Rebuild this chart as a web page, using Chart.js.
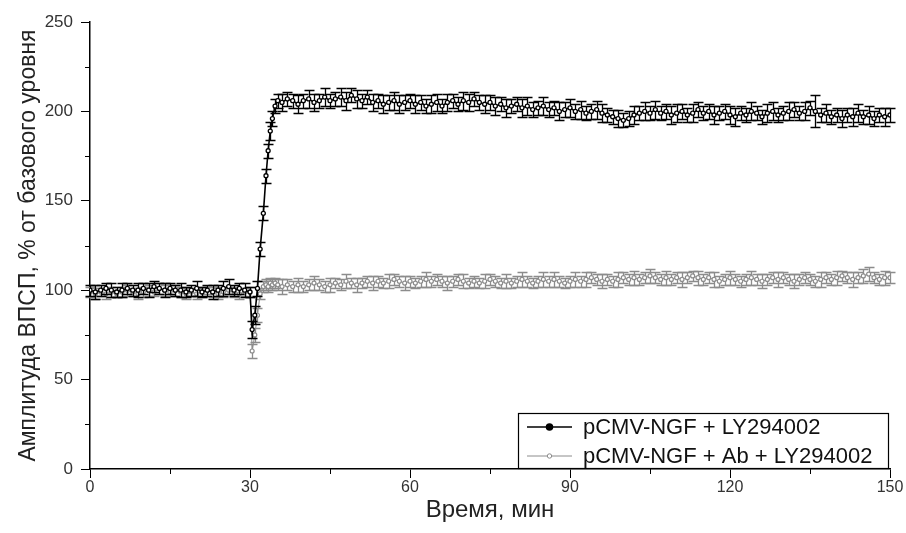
<!DOCTYPE html>
<html>
<head>
<meta charset="utf-8">
<script src="https://cdn.jsdelivr.net/npm/chart.js@4.4.0/dist/chart.umd.min.js"></script>
<style>
  body { margin: 0; background: #fff; }
</style>
</head>
<body>
<canvas id="myChart" width="906" height="533"></canvas>
<script>
// time points, min (denser sampling around the tetanus at 30 min)
const times = [
  0,1,2,3,4,5,6,7,8,9,10,11,12,13,14,15,16,17,18,19,20,21,22,23,24,25,26,27,28,29,30,
  30.4,30.9,31.4,31.9,32.5,33,33.4,33.8,34.2,34.7,35.2,
  36,37,38,39,40,41,42,43,44,45,46,47,48,49,50,51,52,53,54,55,56,57,58,59,60,
  61,62,63,64,65,66,67,68,69,70,71,72,73,74,75,76,77,78,79,80,81,82,83,84,85,
  86,87,88,89,90,91,92,93,94,95,96,97,98,99,100,101,102,103,104,105,106,107,108,109,110,
  111,112,113,114,115,116,117,118,119,120,121,122,123,124,125,126,127,128,129,130,
  131,132,133,134,135,136,137,138,139,140,141,142,143,144,145,146,147,148,149,150
];

// pCMV-NGF + LY294002 (black)
const ngfValues = [
  100,99,100,101,100,99,100,101,100,100,101,100,102,101,100,101,100,100,99,100,101,99,100,99,100,101,102,100,101,100,99,
  78,86,101,123,143,164,178,189,196,203,206,
  205,207,206,204,206,207,205,206,208,206,
  207,208,206,209,207,206,208,205,206,204,
  205,206,204,205,206,204,205,203,204,205,
  203,205,206,204,206,205,207,205,204,205,
  203,204,202,203,204,202,203,201,202,203,
  201,202,200,201,202,200,201,199,200,201,
  199,198,197,196,195,196,198,199,200,199,
  201,199,200,198,199,200,198,199,201,199,
  200,198,199,200,198,197,199,198,200,199,
  197,199,200,198,199,200,201,199,200,202,
  200,198,199,197,198,196,198,197,199,197,
  198,196,198,197,198
];
const ngfErrors = [
  3,4,3,3,4,3,4,3,3,4,3,4,3,3,4,3,3,4,3,3,4,3,3,4,3,4,4,3,3,4,3,
  5,5,4,4,4,4,4,5,4,4,4,
  5,4,4,5,4,5,5,4,5,4,
  4,5,5,4,5,4,4,5,4,5,
  4,5,5,4,4,5,4,4,5,5,
  4,5,4,4,5,5,4,4,5,4,
  5,4,5,4,4,5,5,4,4,5,
  4,4,5,4,5,4,5,4,4,5,
  5,4,4,5,4,4,5,4,5,4,
  5,4,4,5,5,4,4,5,4,4,
  4,5,4,4,5,5,4,4,5,4,
  4,5,5,4,4,5,4,4,5,4,
  9,4,5,4,4,5,4,5,5,4,
  5,4,4,5,4
];

// pCMV-NGF + Ab + LY294002 (grey)
const abValues = [
  99,98,99,98,99,98,99,100,99,98,99,100,99,101,100,99,100,99,98,99,98,99,100,99,98,99,100,99,98,99,99,
  66,75,86,98,102,103,102,104,103,104,103,
  102,103,102,103,102,103,104,103,102,103,
  104,103,105,104,103,104,105,104,105,104,
  105,106,105,104,105,104,105,106,105,106,
  105,104,105,106,105,104,105,104,105,106,
  105,104,105,104,105,106,105,104,105,106,
  105,106,105,104,105,106,105,106,107,106,
  105,106,105,106,107,106,107,106,107,108,
  107,106,107,106,107,106,107,108,107,106,
  107,106,105,106,107,106,105,106,107,106,
  105,106,107,106,107,106,105,106,107,106,
  105,106,107,106,107,108,107,106,107,108,
  109,107,106,107,107
];
const abErrors = [
  3,3,2,3,3,2,3,3,2,3,3,3,2,3,3,2,3,3,3,2,3,3,2,3,3,3,2,3,3,2,3,
  4,4,4,3,3,3,3,3,3,3,3,
  4,3,3,4,3,3,4,3,3,4,
  3,3,4,3,4,3,3,4,3,3,
  4,3,3,4,3,3,3,4,3,3,
  3,4,3,3,4,3,3,3,4,3,
  3,3,4,3,3,4,3,3,3,4,
  3,4,3,3,3,4,3,4,3,3,
  4,3,3,4,3,3,4,3,3,4,
  3,3,4,3,3,4,3,3,4,3,
  3,4,3,3,4,3,3,3,4,3,
  4,3,3,4,3,3,4,3,3,3,
  3,4,3,3,4,3,3,4,3,4,
  4,3,3,4,3
];

const seriesLabels = ['pCMV-NGF + LY294002', 'pCMV-NGF + Ab + LY294002'];
const xMinorTicks = [15, 45, 75, 105, 135];
const yMinorTicks = [25, 75, 125, 175, 225];

function toPoints(vals) {
  return times.map((t, i) => ({x: t, y: vals[i]}));
}

// error bars drawn under each dataset's own line
const errorBars = {
  id: 'errorBars',
  beforeDatasetDraw(chart, args) {
    const ds = chart.data.datasets[args.index];
    const y = chart.scales.y;
    const ctx = chart.ctx;
    ctx.save();
    ctx.strokeStyle = ds.borderColor;
    ctx.lineWidth = 1.3;
    args.meta.data.forEach((pt, i) => {
      const v = ds.data[i].y, e = ds.errors[i];
      const top = Math.round(y.getPixelForValue(v + e)) + 0.5;
      const bot = Math.round(y.getPixelForValue(v - e)) + 0.5;
      const px = Math.round(pt.x) + 0.5;
      ctx.beginPath();
      ctx.moveTo(px, top); ctx.lineTo(px, bot);
      ctx.moveTo(px - 5, top); ctx.lineTo(px + 5, top);
      ctx.moveTo(px - 5, bot); ctx.lineTo(px + 5, bot);
      ctx.stroke();
    });
    ctx.restore();
  }
};

// short minor ticks + legend box
const extras = {
  id: 'extras',
  afterDraw(chart) {
    const ctx = chart.ctx;
    const xs = chart.scales.x, ys = chart.scales.y;
    ctx.save();
    ctx.strokeStyle = '#000';
    ctx.lineWidth = 1;
    xMinorTicks.forEach(v => {
      const px = Math.round(xs.getPixelForValue(v)) + 0.5;
      ctx.beginPath(); ctx.moveTo(px, xs.top); ctx.lineTo(px, xs.top + 5); ctx.stroke();
    });
    yMinorTicks.forEach(v => {
      const py = Math.round(ys.getPixelForValue(v)) + 0.5;
      ctx.beginPath(); ctx.moveTo(ys.right, py); ctx.lineTo(ys.right - 5, py); ctx.stroke();
    });

    // legend
    const bx = 518.5, by = 413.5, bw = 370, bh = 55;
    ctx.fillStyle = '#fff';
    ctx.fillRect(bx, by, bw, bh);
    ctx.strokeStyle = '#000';
    ctx.lineWidth = 1.2;
    ctx.strokeRect(bx, by, bw, bh);
    const rows = [
      {y: 427, color: '#000', fill: '#000', r: 3},
      {y: 456, color: '#8c8c8c', fill: '#fff', r: 2.2}
    ];
    ctx.font = '22px "Liberation Sans", Arial, sans-serif';
    ctx.textBaseline = 'middle';
    rows.forEach((r, i) => {
      ctx.strokeStyle = r.color;
      ctx.lineWidth = i === 0 ? 1.5 : 1;
      ctx.beginPath(); ctx.moveTo(527, r.y); ctx.lineTo(572, r.y); ctx.stroke();
      ctx.beginPath(); ctx.arc(549.5, r.y, r.r, 0, Math.PI * 2);
      ctx.fillStyle = r.fill; ctx.fill(); ctx.stroke();
      ctx.fillStyle = '#111';
      ctx.fillText(seriesLabels[i], 583, r.y + 1);
    });
    ctx.restore();
  }
};

const ctx = document.getElementById('myChart');

let lineChart = new Chart(ctx, {
  type: 'line',
  data: {
    datasets: [
      {
        label: seriesLabels[0],
        data: toPoints(ngfValues),
        errors: ngfErrors,
        borderColor: '#000',
        borderWidth: 1.6,
        pointRadius: 2,
        pointBorderWidth: 1.3,
        pointBackgroundColor: '#fff',
        pointBorderColor: '#000',
        tension: 0
      },
      {
        label: seriesLabels[1],
        data: toPoints(abValues),
        errors: abErrors,
        borderColor: '#8c8c8c',
        borderWidth: 1,
        pointRadius: 2,
        pointBorderWidth: 1.2,
        pointBackgroundColor: '#fff',
        pointBorderColor: '#8c8c8c',
        tension: 0
      }
    ]
  },
  options: {
    responsive: false,
    animation: false,
    events: [],
    layout: { padding: { left: 0, top: 22, right: 16, bottom: 0 } },
    plugins: {
      legend: { display: false },
      tooltip: { enabled: false }
    },
    scales: {
      x: {
        type: 'linear',
        min: 0,
        max: 150,
        afterFit(scale) { scale.height = 64; },
        border: { display: true, color: '#000', width: 1.5 },
        grid: { drawOnChartArea: false, drawTicks: true, tickLength: 9, color: '#000' },
        ticks: {
          stepSize: 30,
          padding: 0,
          color: '#333',
          font: { family: '"Liberation Sans", Arial, sans-serif', size: 16 }
        },
        title: {
          display: true,
          text: 'Время, мин',
          color: '#222',
          padding: { top: 0, bottom: 8 },
          font: { family: '"Liberation Sans Narrow", "Liberation Sans", Arial, sans-serif', size: 24 }
        }
      },
      y: {
        min: 0,
        max: 250,
        afterFit(scale) { scale.width = 90; },
        border: { display: true, color: '#000', width: 1.5 },
        grid: { drawOnChartArea: false, drawTicks: true, tickLength: 9, color: '#000' },
        ticks: {
          stepSize: 50,
          padding: 8,
          color: '#333',
          font: { family: '"Liberation Sans", Arial, sans-serif', size: 17 }
        },
        title: {
          display: true,
          text: 'Амплитуда ВПСП, % от базового уровня',
          color: '#222',
          padding: { top: 15, bottom: 0 },
          font: { family: '"Liberation Sans Narrow", "Liberation Sans", Arial, sans-serif', size: 23 }
        }
      }
    }
  },
  plugins: [errorBars, extras]
});
</script>
</body>
</html>
